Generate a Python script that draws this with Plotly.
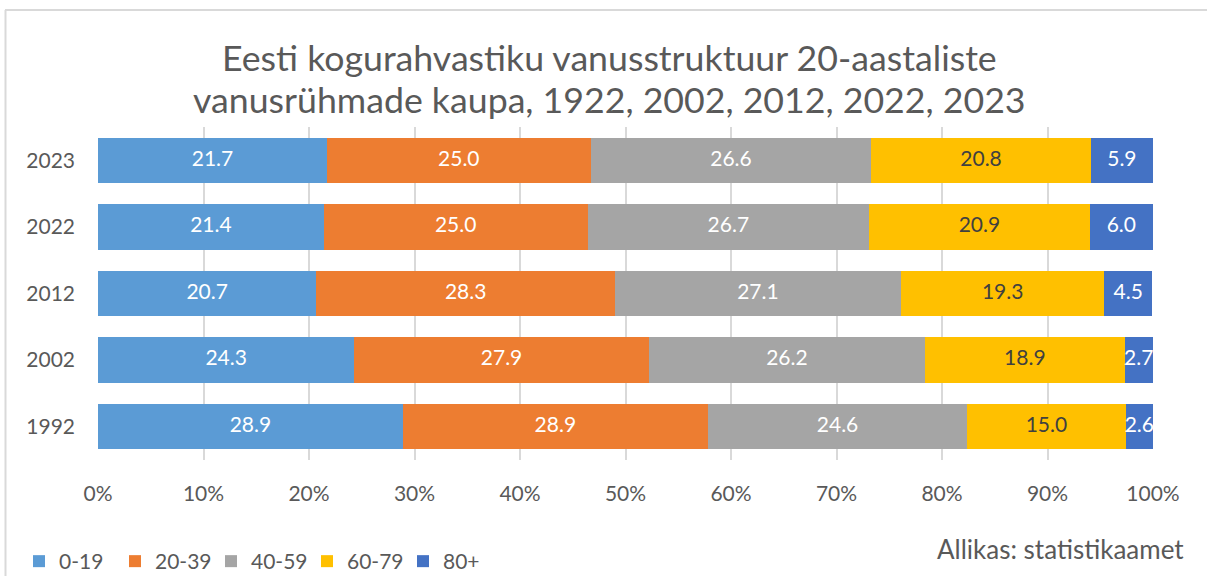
import plotly.graph_objects as go

years = ["1992", "2002", "2012", "2022", "2023"]
groups = ["0-19", "20-39", "40-59", "60-79", "80+"]
values = {
    "0-19":  [28.9, 24.3, 20.7, 21.4, 21.7],
    "20-39": [28.9, 27.9, 28.3, 25.0, 25.0],
    "40-59": [24.6, 26.2, 27.1, 26.7, 26.6],
    "60-79": [15.0, 18.9, 19.3, 20.9, 20.8],
    "80+":   [2.6, 2.7, 4.5, 6.0, 5.9],
}
colors = ["#5B9BD5", "#ED7D31", "#A5A5A5", "#FFC000", "#4472C4"]
label_colors = ["white", "white", "white", "#404040", "white"]
x_ticks = [0, 10, 20, 30, 40, 50, 60, 70, 80, 90, 100]
x_ticklabels = [f"{t}%" for t in x_ticks]
title_lines = ["Eesti kogurahvastiku vanusstruktuur 20-aastaliste",
               "vanusrühmade kaupa, 1922, 2002, 2012, 2022, 2023"]
source_text = "Allikas: statistikaamet"

W, H = 1207, 576
ML, MR, MT, MB = 98, 54, 127, 116
FONT = "Lato"
GREY = "#595959"

fig = go.Figure()
cum = [0.0] * len(years)
for g, c, lc in zip(groups, colors, label_colors):
    vals = values[g]
    fig.add_trace(go.Bar(
        y=years, x=vals, name=g, orientation="h",
        marker=dict(color=c, line=dict(width=0)),
        textposition="none", hoverinfo="skip",
    ))
    mids = [cum[i] + vals[i] / 2 for i in range(len(years))]
    fig.add_trace(go.Scatter(
        y=years, x=mids, mode="text", showlegend=False,
        text=[f"{v:.1f}" for v in vals],
        textposition="middle center",
        textfont=dict(family=FONT, size=21, color=lc),
        cliponaxis=False, hoverinfo="skip",
    ))
    cum = [cum[i] + vals[i] for i in range(len(years))]

pw = W - ML - MR
ph = H - MT - MB
def px2x(px):
    return (px - ML) / pw
def py2y(py):
    return (H - MB - py) / ph

fig.update_layout(
    width=W, height=H,
    barmode="stack", bargap=0.32,
    margin=dict(l=ML, r=MR, t=MT, b=MB, autoexpand=False),
    paper_bgcolor="white", plot_bgcolor="white",
    font=dict(family=FONT, color=GREY, size=21),
    showlegend=True,
    legend=dict(orientation="h", x=px2x(19), y=py2y(541), xanchor="left", yanchor="top",
                font=dict(size=21, color=GREY), traceorder="normal",
                itemwidth=30, entrywidth=51, entrywidthmode="pixels",
                bgcolor="rgba(0,0,0,0)"),
    xaxis=dict(range=[0, 100], tickvals=x_ticks, ticktext=x_ticklabels,
               showgrid=True, gridcolor="#D9D9D9", gridwidth=1.5,
               zeroline=False, showline=False, ticks="",
               tickfont=dict(size=21, color=GREY), ticklabelstandoff=19),
    yaxis=dict(categoryorder="array", categoryarray=years, showgrid=False,
               zeroline=False, showline=False, ticks="",
               tickfont=dict(size=21, color=GREY), ticklabelstandoff=22),
    annotations=[
        dict(text=title_lines[0], x=px2x(609), y=py2y(57),
             xref="paper", yref="paper", showarrow=False, xanchor="center", yanchor="middle",
             font=dict(size=35.7, color=GREY, family=FONT)),
        dict(text=title_lines[1], x=px2x(609), y=py2y(100),
             xref="paper", yref="paper", showarrow=False, xanchor="center", yanchor="middle",
             font=dict(size=35.7, color=GREY, family=FONT)),
        dict(text=source_text, x=px2x(1186), y=py2y(549),
             xref="paper", yref="paper", showarrow=False, xanchor="right", yanchor="middle",
             font=dict(size=26, color=GREY, family=FONT)),
    ],
    shapes=[
        dict(type="line", xref="paper", yref="paper", x0=px2x(5), x1=px2x(1210),
             y0=py2y(10), y1=py2y(10), line=dict(color="#D9D9D9", width=2)),
        dict(type="line", xref="paper", yref="paper", x0=px2x(5.5), x1=px2x(5.5),
             y0=py2y(10), y1=py2y(580), line=dict(color="#D9D9D9", width=2)),
    ],
)

fig.write_html("out.html", config={"displayModeBar": False},
               post_script="document.body.style.margin='0';document.body.style.overflow='hidden';")
